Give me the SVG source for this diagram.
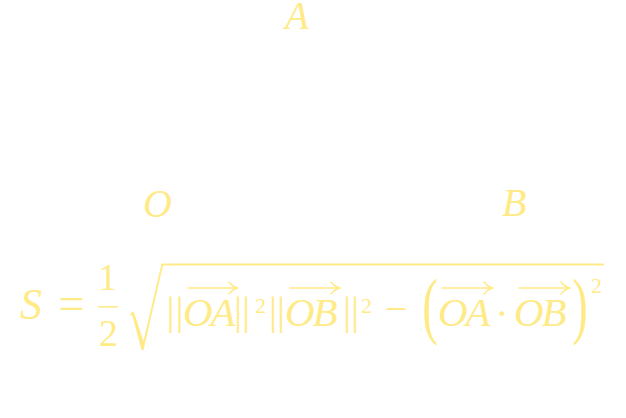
<svg xmlns="http://www.w3.org/2000/svg" width="626" height="418" viewBox="0 0 626 418">
<style>
.t{fill:#FFEA88;font-family:"Liberation Serif","Times New Roman",serif}
.i{font-style:italic}
.v{font-style:italic;font-size:41px;letter-spacing:-2px}
.ar{fill:none;stroke:#FFEA88;stroke-width:1.6;stroke-linecap:round}
.fl{fill:#FFEA88}
</style>
<defs>
<path id="ah" d="M-9,-6 Q-5,-1 0,0 Q-5,1 -9,6" class="ar"/>
</defs>
<rect width="626" height="418" fill="#ffffff"/>
<g id="label-A"><text class="t i" x="285" y="29" font-size="39">A</text></g>
<g id="label-O"><text class="t i" x="143" y="217" font-size="40">O</text></g>
<g id="label-B"><text class="t i" x="502" y="216" font-size="40">B</text></g>
<g id="formula">
<text class="t i" x="20" y="319" font-size="44">S</text>
<text class="t" x="71.5" y="319" font-size="46" text-anchor="middle">=</text>
<text class="t" x="107.5" y="290" font-size="37" text-anchor="middle">1</text>
<rect class="fl" x="98" y="306" width="20" height="1.6"/>
<text class="t" x="108.5" y="346" font-size="38" text-anchor="middle">2</text>
<path class="fl" d="M129.5,314.5 L133.5,311 L143.5,341 L161.5,263.5 H604 V265.5 H163 L143.5,350 H141.5 L132.5,316 Z"/>
<text class="t" x="170.5 179.5" y="324" font-size="40" text-anchor="middle">||</text>
<text class="t v" x="183" y="326">OA</text>
<line class="ar" x1="188" y1="288" x2="238" y2="288"/>
<use href="#ah" x="238" y="288"/>
<text class="t" x="238 246" y="324" font-size="40" text-anchor="middle">||</text>
<text class="t" x="255" y="313" font-size="22">2</text>
<text class="t" x="273 281" y="324" font-size="40" text-anchor="middle">||</text>
<text class="t v" x="285" y="326">OB</text>
<line class="ar" x1="290" y1="288" x2="340" y2="288"/>
<use href="#ah" x="340" y="288"/>
<text class="t" x="347 355" y="324" font-size="40" text-anchor="middle">||</text>
<text class="t" x="361" y="313" font-size="22">2</text>
<text class="t" x="396" y="322" font-size="40" text-anchor="middle">−</text>
<text class="t" transform="translate(430,330) scale(0.62,1)" x="0" y="0" font-size="75" text-anchor="middle">(</text>
<text class="t v" x="438" y="326">OA</text>
<line class="ar" x1="442" y1="288" x2="493" y2="288"/>
<use href="#ah" x="493" y="288"/>
<text class="t" x="502" y="327" font-size="40" text-anchor="middle">·</text>
<text class="t v" x="514" y="326">OB</text>
<line class="ar" x1="519" y1="288" x2="570" y2="288"/>
<use href="#ah" x="570" y="288"/>
<text class="t" transform="translate(580,330) scale(0.62,1)" x="0" y="0" font-size="75" text-anchor="middle">)</text>
<text class="t" x="591" y="293" font-size="22">2</text>
</g>
</svg>
